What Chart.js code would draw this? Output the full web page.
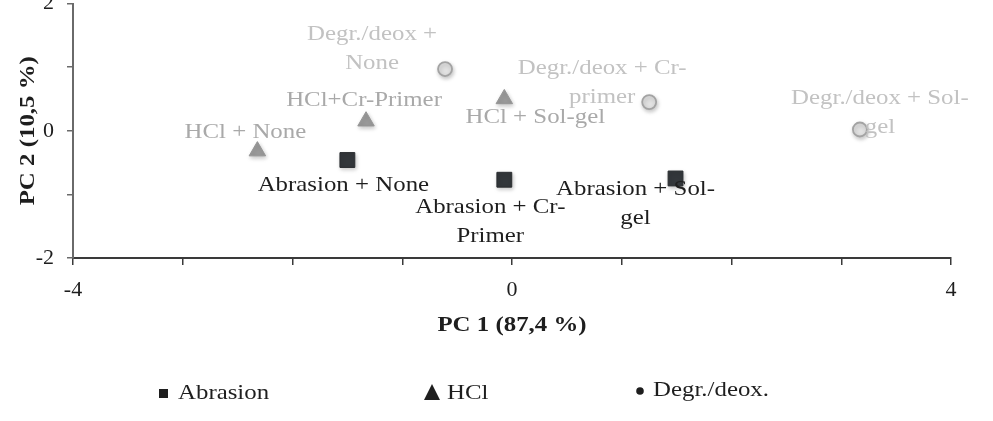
<!DOCTYPE html>
<html>
<head>
<meta charset="utf-8">
<script src="https://cdn.jsdelivr.net/npm/chart.js@4/dist/chart.umd.min.js"></script>
<style>
  html, body { margin: 0; padding: 0; background: #fff; overflow: hidden; }
  #wrap { width: 993px; height: 421px; position: relative; overflow: hidden; }
  #c { position: absolute; left: 0; top: -8px; }
</style>
</head>
<body>
<div id="wrap"><canvas id="c" width="993" height="429"></canvas></div>
<script>
// ---- Data ----
const seriesNames = ["Abrasion", "HCl", "Degr./deox."];

const abrasionX = [-1.50, -0.07, 1.49];
const abrasionY = [-0.46, -0.77, -0.75];
const abrasionLabels = [["Abrasion + None"], ["Abrasion + Cr-", "Primer"], ["Abrasion + Sol-", "gel"]];

const hclX = [-2.32, -1.33, -0.07];
const hclY = [-0.32, 0.15, 0.50];
const hclLabels = [["HCl + None"], ["HCl+Cr-Primer"], ["HCl + Sol-gel"]];

const degrX = [-0.61, 1.25, 3.17];
const degrY = [0.97, 0.45, 0.02];
const degrLabels = [["Degr./deox +", "None"], ["Degr./deox + Cr-", "primer"], ["Degr./deox + Sol-", "gel"]];

const xTickLabels = [-4, 0, 4];
const yTickLabels = [-2, 0, 2];
const xTitle = "PC 1 (87,4 %)";
const yTitle = "PC 2 (10,5 %)";

// ---- Label placement (pixel offsets from each point, first line centre) ----
const abrasionLabelOffsets = [[-4, 25], [-14, 27], [-40, 11]];
const hclLabelOffsets = [[-12, -19], [-2, -21], [31, 18]];
const degrLabelOffsets = [[-73, -35], [-47, -34], [20, -31]];

const toPoints = (xs, ys) => xs.map((x, i) => ({ x: x, y: ys[i] }));

const FONT = '"Liberation Serif", "Times New Roman", serif';
const STRETCH = 1.13;
const SHIFT = 8; // canvas is shifted up by this many pixels

function stretchedText(ctx, text, x, y, align) {
  ctx.save();
  ctx.translate(x, y);
  ctx.scale(STRETCH, 1);
  ctx.textAlign = align || 'center';
  ctx.fillText(text, 0, 0);
  ctx.restore();
}

const shadowPlugin = {
  id: 'shadow',
  beforeDatasetsDraw(chart) {
    const ctx = chart.ctx;
    ctx.save();
    ctx.shadowColor = 'rgba(0,0,0,0.22)';
    ctx.shadowBlur = 4;
    ctx.shadowOffsetX = 1;
    ctx.shadowOffsetY = 2;
  },
  afterDatasetsDraw(chart) {
    chart.ctx.restore();
  }
};

const annotatePlugin = {
  id: 'annotate',
  afterDraw(chart) {
    const ctx = chart.ctx;
    const xs = chart.scales.x, ys = chart.scales.y;
    const groups = [
      { xv: abrasionX, yv: abrasionY, labels: abrasionLabels, off: abrasionLabelOffsets, color: '#1e1e1e' },
      { xv: hclX, yv: hclY, labels: hclLabels, off: hclLabelOffsets, color: '#a9a9a9' },
      { xv: degrX, yv: degrY, labels: degrLabels, off: degrLabelOffsets, color: '#c2c2c2' }
    ];
    ctx.save();
    ctx.font = '22px ' + FONT;
    ctx.textBaseline = 'middle';
    groups.forEach(g => {
      ctx.fillStyle = g.color;
      g.labels.forEach((lines, i) => {
        const px = xs.getPixelForValue(g.xv[i]) + g.off[i][0];
        const py = ys.getPixelForValue(g.yv[i]) + g.off[i][1];
        lines.forEach((ln, k) => stretchedText(ctx, ln, px, py + k * 29, 'center'));
      });
    });

    // axis titles
    ctx.fillStyle = '#1e1e1e';
    ctx.font = 'bold 22px ' + FONT;
    stretchedText(ctx, xTitle, (chart.chartArea.left + chart.chartArea.right) / 2, 325 + SHIFT, 'center');
    ctx.save();
    ctx.translate(28, (chart.chartArea.top + chart.chartArea.bottom) / 2);
    ctx.rotate(-Math.PI / 2);
    stretchedText(ctx, yTitle, 0, 0, 'center');
    ctx.restore();

    // legend
    ctx.font = '22px ' + FONT;
    ctx.fillStyle = '#1e1e1e';
    const ly = 393 + SHIFT;
    ctx.fillRect(159, ly - 4, 9, 9);
    stretchedText(ctx, seriesNames[0], 178, ly, 'left');
    ctx.beginPath();
    ctx.moveTo(432, ly - 9);
    ctx.lineTo(440, ly + 7);
    ctx.lineTo(424, ly + 7);
    ctx.closePath();
    ctx.fill();
    stretchedText(ctx, seriesNames[1], 447, ly, 'left');
    ctx.beginPath();
    ctx.arc(640, ly - 2, 3.8, 0, Math.PI * 2);
    ctx.fill();
    stretchedText(ctx, seriesNames[2], 653, ly - 3, 'left');
    ctx.restore();
  }
};

function build() {
  new Chart(document.getElementById('c'), {
    type: 'scatter',
    data: {
      datasets: [
        {
          label: seriesNames[0],
          data: toPoints(abrasionX, abrasionY),
          pointStyle: 'rect',
          pointRadius: 10.5,
          pointHoverRadius: 10.5,
          backgroundColor: '#33373b',
          borderColor: '#2a2d30',
          borderWidth: 1
        },
        {
          label: seriesNames[1],
          data: toPoints(hclX, hclY),
          pointStyle: 'triangle',
          pointRadius: 9.5,
          pointHoverRadius: 9.5,
          backgroundColor: '#9a9a9a',
          borderColor: '#959595',
          borderWidth: 1
        },
        {
          label: seriesNames[2],
          data: toPoints(degrX, degrY),
          pointStyle: 'circle',
          pointRadius: 7,
          pointHoverRadius: 7,
          backgroundColor: '#e2e2e2',
          borderColor: '#a3a3a3',
          borderWidth: 1.8
        }
      ]
    },
    options: {
      responsive: false,
      animation: false,
      events: [],
      clip: false,
      layout: { padding: { top: 4, right: 42, left: 0, bottom: 0 } },
      plugins: {
        legend: { display: false },
        tooltip: { enabled: false }
      },
      scales: {
        x: {
          type: 'linear',
          min: -4, max: 4,
          afterFit(s) { s.height = 163; s.paddingLeft = 0; s.paddingRight = 0; },
          ticks: {
            stepSize: 1,
            autoSkip: false,
            maxRotation: 0,
            padding: 12,
            color: '#1e1e1e',
            font: { family: FONT, size: 22 },
            callback: v => xTickLabels.includes(v) ? String(v) : ''
          },
          grid: {
            drawOnChartArea: false,
            drawTicks: true,
            tickLength: 7,
            color: '#3a3a3a',
            lineWidth: 1.5
          },
          border: { display: true, color: '#3a3a3a', width: 2 }
        },
        y: {
          type: 'linear',
          min: -2, max: 2,
          afterFit(s) { s.width = 73; s.paddingTop = 0; s.paddingBottom = 0; },
          ticks: {
            stepSize: 1,
            autoSkip: false,
            padding: 13,
            color: '#1e1e1e',
            font: { family: FONT, size: 22 },
            callback: v => yTickLabels.includes(v) ? String(v) : ''
          },
          grid: {
            drawOnChartArea: false,
            drawTicks: true,
            tickLength: 6,
            color: '#6a6a6a',
            lineWidth: 1.5
          },
          border: { display: true, color: '#6a6a6a', width: 2 }
        }
      }
    },
    plugins: [shadowPlugin, annotatePlugin]
  });
}

Promise.all([
  document.fonts.load('22px "Liberation Serif"'),
  document.fonts.load('bold 22px "Liberation Serif"')
]).then(build, build);
</script>
</body>
</html>
